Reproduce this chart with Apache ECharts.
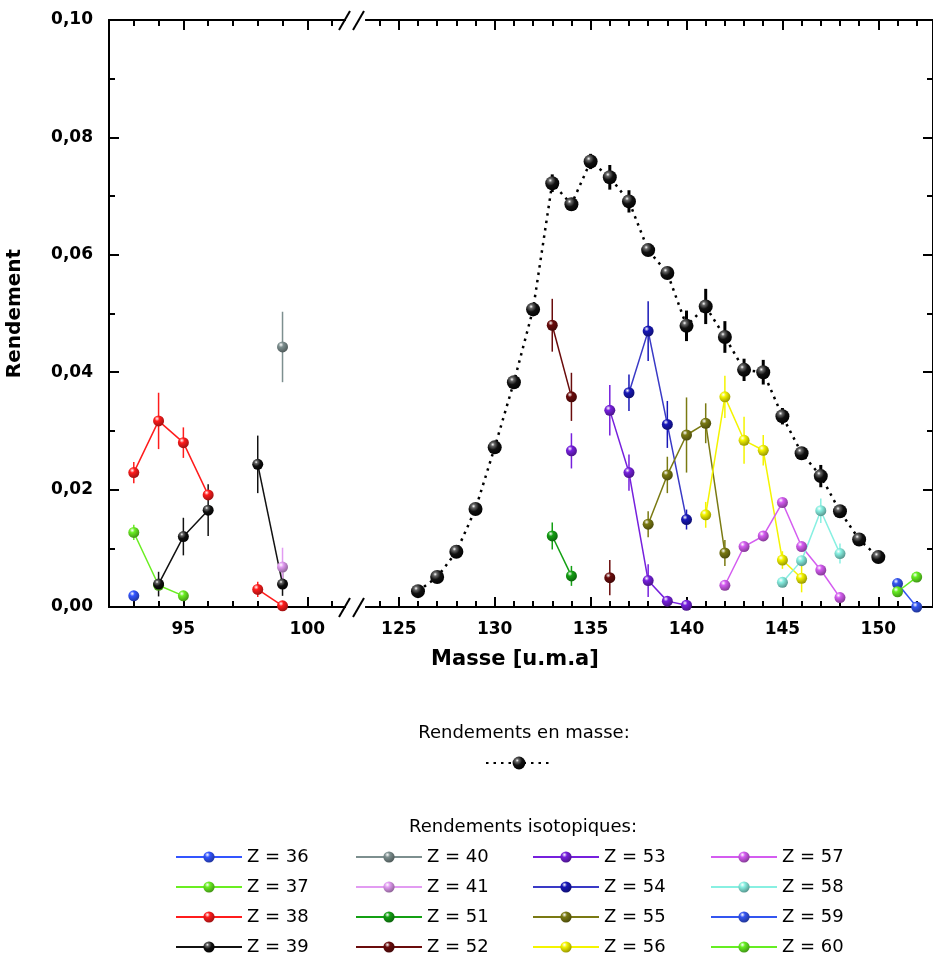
<!DOCTYPE html>
<html><head><meta charset="utf-8">
<script src="https://cdn.jsdelivr.net/npm/echarts@6/dist/echarts.min.js"></script>
<style>html,body{margin:0;padding:0;background:#fff}#c{width:933px;height:960px}</style>
</head><body><div id="c"></div>
<script>
// ---- tick values ----
const LEFT_MAJOR = [95, 100];
const LEFT_MINOR = [93, 94, 96, 97, 98, 99, 101];
const RIGHT_MAJOR = [125, 130, 135, 140, 145, 150];
const RIGHT_MINOR = [124, 126, 127, 128, 129, 131, 132, 133, 134, 136, 137, 138, 139, 141, 142, 143, 144, 146, 147, 148, 149, 151, 152];

// ---- data: [masse, rendement, erreur] ----
const MASS = [
  [126,0.0027,0],[127,0.0051,0],[128,0.0094,0],[129,0.0167,0],[130,0.0272,0],
  [131,0.0383,0],[132,0.0507,0],[133,0.0722,0.0015],[134,0.0686,0.0010],[135,0.0759,0.0013],
  [136,0.0732,0.0021],[137,0.0691,0.0019],[138,0.0608,0.0008],[139,0.0569,0.0006],[140,0.0479,0.0026],
  [141,0.0512,0.0030],[142,0.0460,0.0027],[143,0.0404,0.0019],[144,0.0400,0.0021],[145,0.0325,0.0014],
  [146,0.0262,0.0008],[147,0.0223,0.0019],[148,0.0163,0.0010],[149,0.0115,0],[150,0.0085,0]
];
const Z36 = [[93,0.0019,0]];
const Z37 = [[93,0.0127,0.0013],[94,0.0037,0],[95,0.0019,0]];
const Z38 = [[93,0.0229,0.0018],[94,0.0317,0.0048],[95,0.0280,0.0026],[96,0.0191,0.0008],[98,0.0030,0.0013],[99,0.0002,0]];
const Z39 = [[94,0.0039,0.0021],[95,0.0120,0.0032],[96,0.0165,0.0044],[98,0.0243,0.0049],[99,0.0039,0.0020]];
const Z40 = [[99,0.0443,0.0060]];
const Z41 = [[99,0.0068,0.0033]];
const Z51 = [[133,0.0121,0.0023],[134,0.0053,0.0017]];
const Z52 = [[133,0.0480,0.0045],[134,0.0358,0.0041],[136,0.0050,0.0030]];
const Z53 = [[134,0.0266,0.0030],[136,0.0335,0.0043],[137,0.0229,0.0031],[138,0.0045,0.0028],[139,0.0010,0],[140,0.0003,0]];
const Z54 = [[137,0.0365,0.0031],[138,0.0470,0.0051],[139,0.0311,0.0040],[140,0.0149,0.0017]];
const Z55 = [[138,0.0141,0.0022],[139,0.0225,0.0031],[140,0.0293,0.0064],[141,0.0313,0.0034],[142,0.0092,0.0022]];
const Z56 = [[141,0.0157,0.0022],[142,0.0358,0.0036],[143,0.0284,0.0040],[144,0.0267,0.0026],[145,0.0080,0.0015],[146,0.0049,0.0024]];
const Z57 = [[142,0.0037,0],[143,0.0103,0],[144,0.0121,0],[145,0.0178,0],[146,0.0103,0],[147,0.0063,0],[148,0.0016,0]];
const Z58 = [[145,0.0042,0],[146,0.0079,0.0008],[147,0.0164,0.0021],[148,0.0091,0.0017]];
const Z59 = [[151,0.0040,0],[152,0.0000,0]];
const Z60 = [[151,0.0026,0],[152,0.0051,0.0008]];

// ---- series table (name, data, segment of axis) ----
const ISO = [
  ['Z = 36', Z36, 0], ['Z = 37', Z37, 0], ['Z = 38', Z38, 0], ['Z = 39', Z39, 0],
  ['Z = 40', Z40, 0], ['Z = 41', Z41, 0], ['Z = 51', Z51, 1], ['Z = 52', Z52, 1],
  ['Z = 53', Z53, 1], ['Z = 54', Z54, 1], ['Z = 55', Z55, 1], ['Z = 56', Z56, 1],
  ['Z = 57', Z57, 1], ['Z = 58', Z58, 1], ['Z = 59', Z59, 1], ['Z = 60', Z60, 1]
];
const COLORS = {
  'Z = 36':'#3355ff','Z = 37':'#6aee22','Z = 38':'#ff1c1c','Z = 39':'#111111',
  'Z = 40':'#7d8f8f','Z = 41':'#e29cf2','Z = 51':'#13a013','Z = 52':'#6a0c0c',
  'Z = 53':'#7620dd','Z = 54':'#1818b8','Z = 55':'#7a7a12','Z = 56':'#f4f400',
  'Z = 57':'#d45cf0','Z = 58':'#88f0e2','Z = 59':'#3355f0','Z = 60':'#66ee22'
};
const LINE_COLORS = { 'Z = 54':'#3a3ac6' };

const FONT = 'DejaVu Sans';

function shade(hex, f) {
  const n = parseInt(hex.slice(1), 16);
  const r = Math.round(((n >> 16) & 255) * f), g = Math.round(((n >> 8) & 255) * f), b = Math.round((n & 255) * f);
  return 'rgb(' + r + ',' + g + ',' + b + ')';
}
function sphere(c) {
  if (c === '#111111' || c === '#000000') {
    return {type:'radial', x:0.36, y:0.3, r:0.75, colorStops:[
      {offset:0,color:'#ffffff'},{offset:0.18,color:'#666666'},{offset:0.5,color:'#111111'},{offset:1,color:'#000000'}]};
  }
  return {type:'radial', x:0.36, y:0.3, r:0.75, colorStops:[
    {offset:0,color:'#ffffff'},{offset:0.3,color:c},{offset:1,color:shade(c,0.6)}]};
}
function segments(arr) {
  const out = []; let cur = [];
  arr.forEach((p, i) => { if (i > 0 && p[0] - arr[i-1][0] > 1) { out.push(cur); cur = []; } cur.push(p); });
  out.push(cur); return out;
}
function errSeries(arr, xi, yi, color, width) {
  return {
    type:'custom', xAxisIndex:xi, yAxisIndex:yi, silent:true, animation:false, z:2,
    encode:{x:0, y:[1,2]},
    data: arr.filter(p => p[2] > 0).map(p => [p[0], p[1]-p[2], p[1]+p[2]]),
    renderItem: (params, api) => {
      const a = api.coord([api.value(0), api.value(1)]);
      const b = api.coord([api.value(0), api.value(2)]);
      return {type:'line', shape:{x1:a[0], y1:a[1], x2:b[0], y2:b[1]}, style:{stroke:color, lineWidth:width}};
    }
  };
}

const series = [];
ISO.forEach(([name, arr, g]) => {
  const c = COLORS[name];
  const xi = g ? 4 : 0, yi = g;
  series.push(errSeries(arr, xi, yi, c, 1.5));
  segments(arr).forEach(seg => {
    series.push({
      type:'line', name, xAxisIndex:xi, yAxisIndex:yi, animation:false, z:3,
      data: seg.map(p => [p[0], p[1]]),
      symbol:'circle', symbolSize:11, showSymbol:true, clip:false,
      lineStyle:{color: LINE_COLORS[name] || c, width:1.5},
      itemStyle:{color: sphere(c)}
    });
  });
});
series.push(errSeries(MASS, 4, 1, '#000000', 3));
series.push({
  type:'line', name:'Rendements en masse', xAxisIndex:4, yAxisIndex:1, animation:false, z:4,
  data: MASS.map(p => [p[0], p[1]]),
  symbol:'circle', symbolSize:14, showSymbol:true,
  lineStyle:{color:'#000', width:2.5, type:[2.5,5]},
  itemStyle:{color: sphere('#000000')}
});

function xAx(grid, pos, min, max, vals, len, labels) {
  return {
    type:'value', gridIndex:grid, position:pos, min, max,
    axisLine:{show:true, onZero:false, lineStyle:{color:'#000', width:2}},
    axisTick:{show:true, inside:true, length:len, customValues:vals, lineStyle:{color:'#000', width:2}},
    axisLabel: labels ? {show:true, customValues:vals, margin:14, fontSize:17, fontWeight:'bold', fontFamily:FONT, color:'#000'} : {show:false},
    splitLine:{show:false}, minorTick:{show:false}
  };
}
const LMIN = 92, LMAX = 101.52, RMIN = 123.29, RMAX = 152.85;
const xAxis = [
  xAx(0,'bottom',LMIN,LMAX,LEFT_MAJOR,10,true),
  xAx(0,'bottom',LMIN,LMAX,LEFT_MINOR,6,false),
  xAx(0,'top',LMIN,LMAX,LEFT_MAJOR,10,false),
  xAx(0,'top',LMIN,LMAX,LEFT_MINOR,6,false),
  xAx(1,'bottom',RMIN,RMAX,RIGHT_MAJOR,10,true),
  xAx(1,'bottom',RMIN,RMAX,RIGHT_MINOR,6,false),
  xAx(1,'top',RMIN,RMAX,RIGHT_MAJOR,10,false),
  xAx(1,'top',RMIN,RMAX,RIGHT_MINOR,6,false)
];
function yAx(grid, pos, labels) {
  const o = {
    type:'value', gridIndex:grid, position:pos, min:0, max:0.1, interval:0.02,
    axisLine:{show:true, onZero:false, lineStyle:{color:'#000', width:2}},
    axisTick:{show:true, inside:true, length:10, lineStyle:{color:'#000', width:2}},
    minorTick:{show:true, splitNumber:2, length:6, lineStyle:{color:'#000', width:2}},
    splitLine:{show:false},
    axisLabel: labels ? {show:true, margin:16, fontSize:17, fontWeight:'bold', fontFamily:FONT, color:'#000',
      formatter: v => v.toFixed(2).replace('.', ',')} : {show:false}
  };
  if (labels) {
    o.name = 'Rendement'; o.nameLocation = 'middle'; o.nameGap = 84; o.nameRotate = 90;
    o.nameTextStyle = {fontSize:20, fontWeight:'bold', fontFamily:FONT, color:'#000'};
  }
  return o;
}
const yAxis = [yAx(0,'left',true), yAx(1,'right',false)];

const LEG_COLS = [
  ['Z = 36','Z = 37','Z = 38','Z = 39'],
  ['Z = 40','Z = 41','Z = 51','Z = 52'],
  ['Z = 53','Z = 54','Z = 55','Z = 56'],
  ['Z = 57','Z = 58','Z = 59','Z = 60']
];
const LEG_LEFT = [175, 355, 532, 710];
const legend = LEG_COLS.map((d, i) => ({
  data:d, orient:'vertical', left:LEG_LEFT[i], top:848, padding:0, itemWidth:66, itemHeight:14, itemGap:12,
  height:112, selectedMode:false, textStyle:{fontSize:18, fontFamily:FONT, color:'#000'}
}));
legend.push({data:['Rendements en masse'], left:485, top:755, padding:0, itemWidth:66, itemHeight:16,
  selectedMode:false, formatter:() => '', textStyle:{fontSize:1}});

const txt = (x, y, text, size, weight) => ({type:'text', x, y, silent:true,
  style:{text, fill:'#000', font: (weight||'normal') + ' ' + size + 'px "' + FONT + '"', align:'center', verticalAlign:'middle'}});
const brk = (x1, y1, x2, y2) => ({type:'line', silent:true, shape:{x1, y1, x2, y2}, style:{stroke:'#000', lineWidth:2}});
const graphic = [
  txt(515, 660, 'Masse [u.m.a]', 21, 'bold'),
  txt(524, 733, 'Rendements en masse:', 18),
  txt(523, 827, 'Rendements isotopiques:', 18),
  brk(339, 617, 350, 598), brk(353, 617, 364, 598),
  brk(339, 30, 350, 11), brk(353, 30, 364, 11)
];

const chart = echarts.init(document.getElementById('c'), null, {renderer:'canvas'});
chart.setOption({
  animation:false, backgroundColor:'#fff',
  grid:[
    {left:109, top:20, width:236, height:587},
    {left:366, top:20, width:570, height:587}
  ],
  xAxis, yAxis, legend, series, graphic
});
</script></body></html>
